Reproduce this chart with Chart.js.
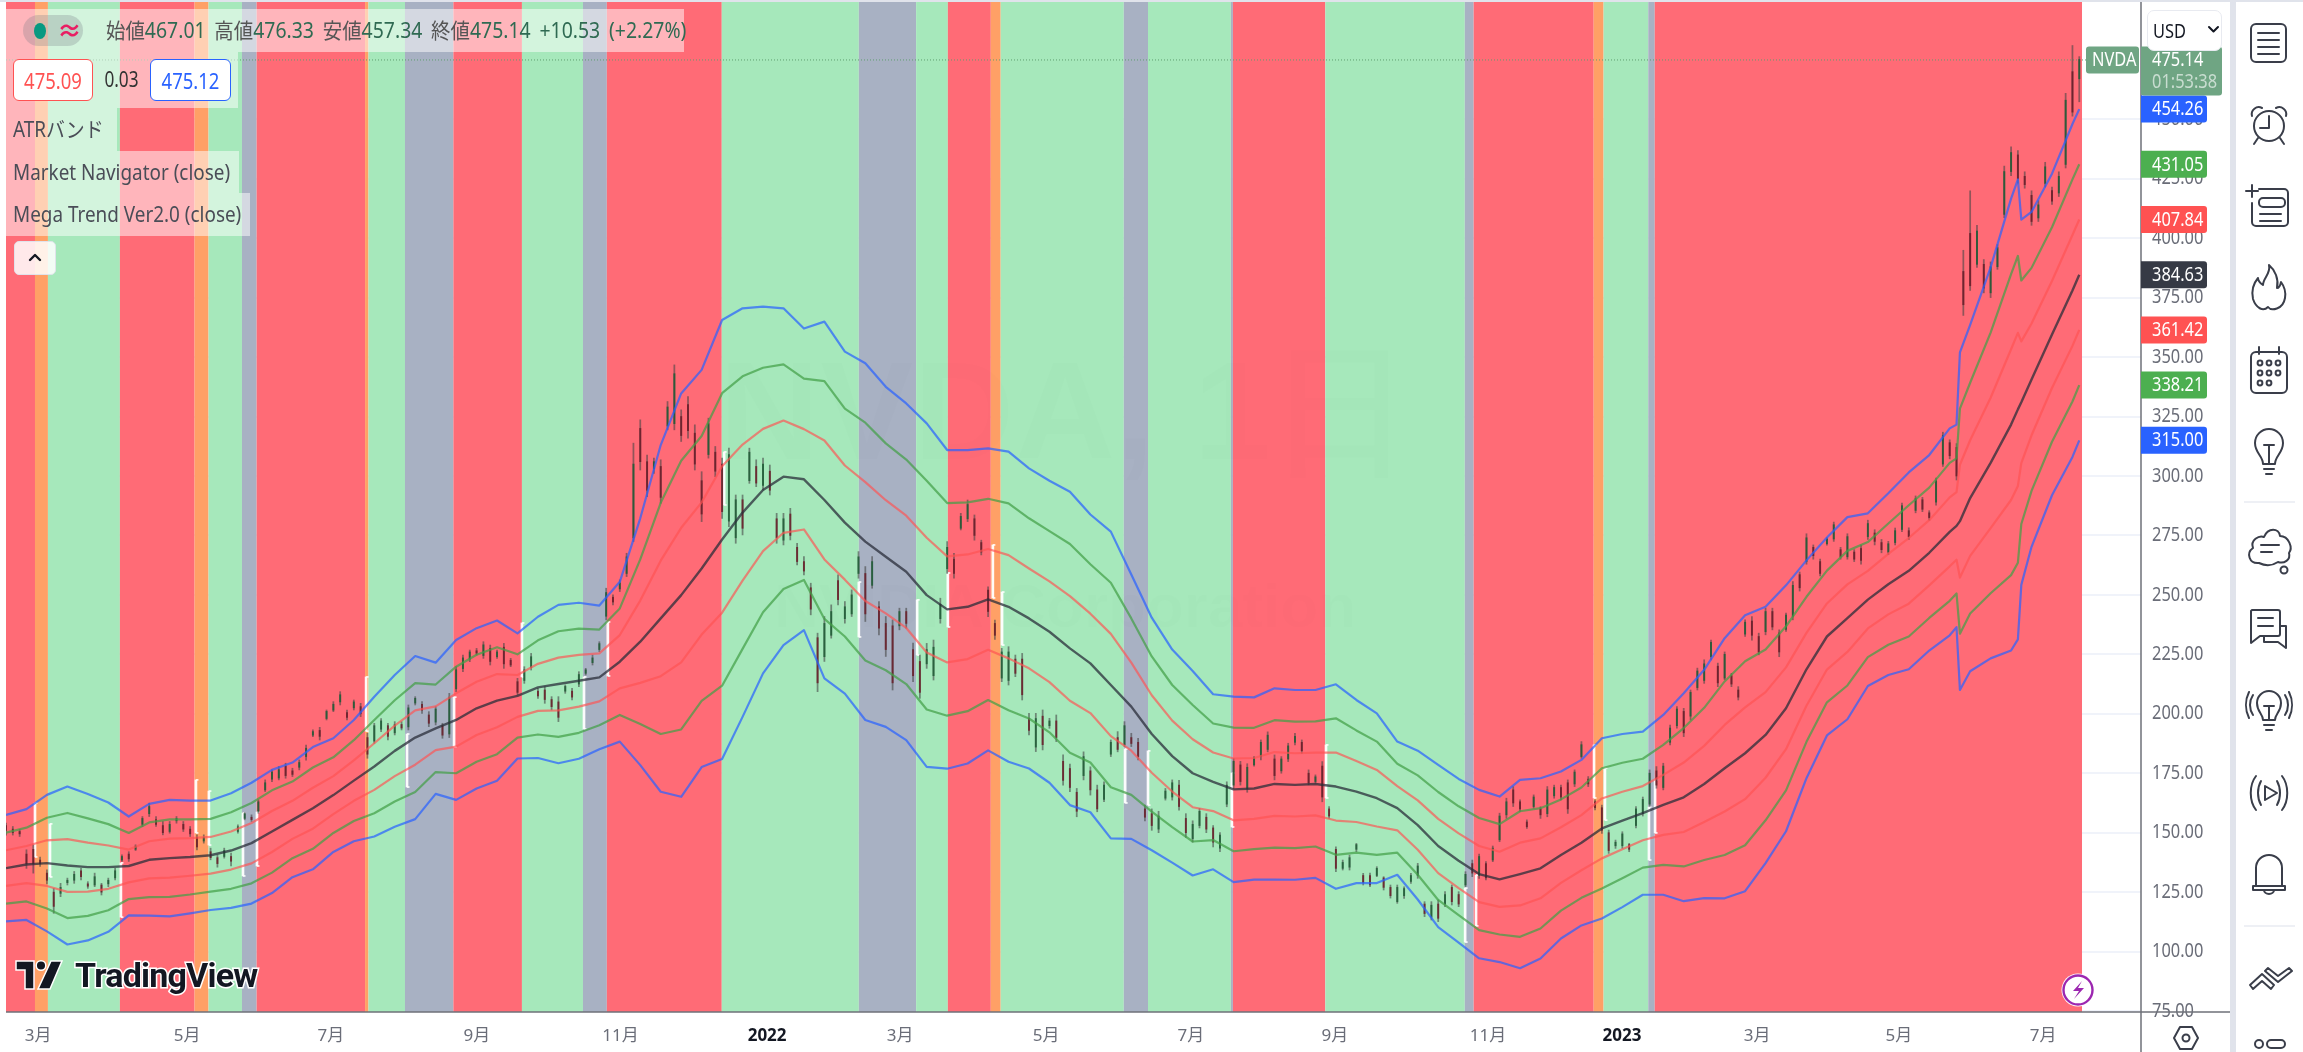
<!DOCTYPE html>
<html lang="ja"><head><meta charset="utf-8"><title>NVDA</title>
<script src="https://cdn.jsdelivr.net/npm/chart.js@4/dist/chart.umd.min.js"></script>
<style>
html,body{margin:0;padding:0;background:#fff;width:2303px;height:1052px;overflow:hidden}
#root{position:relative;width:2303px;height:1052px;overflow:hidden;filter:blur(.45px)}
canvas{position:absolute;left:0;top:0}
.o{position:absolute;font-family:"Noto Sans","Noto Sans CJK JP",sans-serif;white-space:nowrap;box-sizing:border-box}
.strip{background:rgba(255,255,255,.5)}
.t{position:absolute;left:7px;top:0;color:#4a4d57;font-size:21px;line-height:43px;transform-origin:0 50%;white-space:nowrap}
.b{position:absolute;left:0;right:0;top:0;text-align:center;font-size:22px;line-height:40px}
svg{position:absolute;overflow:visible}
svg.i{fill:none;stroke:#3a3e4a;stroke-width:2;stroke-linecap:round;stroke-linejoin:round}
</style></head><body><div id="root">
<canvas id="c" width="2303" height="1052"></canvas>
<div class="o" style="left:0;top:0;width:2303px;height:2px;background:#e0e3eb"></div>
<div class="o" style="left:2230px;top:0;width:6px;height:1052px;background:#e0e3eb"></div>
<div class="o strip" style="left:6px;top:9px;width:678px;height:43px"></div>
<div class="o" style="left:23px;top:15px;width:60px;height:31px;border-radius:16px;background:rgba(120,123,134,.28)"></div>
<div class="o" style="left:34px;top:23px;width:12px;height:16px;border-radius:50%;background:#089981"></div>
<div class="o" style="left:57px;top:13px;font-size:25px;color:#e91e63;line-height:34px;font-weight:700">≈</div>
<div class="o" style="left:106px;top:9px;line-height:43px;font-size:21px;color:#2f6a52;word-spacing:4px;transform:scaleX(.925);transform-origin:0 50%"><span style="color:#555">始値</span>467.01 <span style="color:#555">高値</span>476.33 <span style="color:#555">安値</span>457.34 <span style="color:#555">終値</span>475.14 +10.53 (+2.27%)</div>
<div class="o strip" style="left:6px;top:52px;width:232px;height:56px"></div>
<div class="o" style="left:13px;top:59px;width:80px;height:42px;border:1px solid #ff5252;border-radius:6px;background:#fff;overflow:hidden"><div class="b" style="color:#ff5252;transform:scaleX(.84)">475.09</div></div>
<div class="o" style="left:93px;top:59px;width:57px;height:42px;color:#333"><div class="b" style="font-size:21px;transform:scaleX(.82)">0.03</div></div>
<div class="o" style="left:150px;top:59px;width:81px;height:42px;border:1px solid #2962ff;border-radius:6px;background:#fff;overflow:hidden"><div class="b" style="color:#2962ff;transform:scaleX(.84)">475.12</div></div>
<div class="o strip" style="left:6px;top:108px;width:111px;height:43px"><div class="t" style="transform:scaleX(.9)">ATRバンド</div></div>
<div class="o strip" style="left:6px;top:151px;width:233px;height:42px"><div class="t" style="line-height:42px;transform:scaleX(.9)">Market Navigator (close)</div></div>
<div class="o strip" style="left:6px;top:193px;width:244px;height:43px"><div class="t" style="transform:scaleX(.9)">Mega Trend Ver2.0 (close)</div></div>
<div class="o" style="left:14px;top:241px;width:42px;height:34px;background:rgba(255,255,255,.85);border:1px solid #e0e3eb;border-radius:5px"></div>
<svg class="i" style="left:28px;top:252px" width="14" height="10"><path d="M2 8 L7 3 L12 8" style="stroke:#131722;stroke-width:2.4"/></svg>
<div class="o" style="left:2147px;top:10px;width:75px;height:41px;background:#fff;border:1px solid #e8eaf0;border-radius:7px"><div style="position:absolute;left:5px;top:0;color:#131722;font-size:20px;line-height:40px;transform:scaleX(.82);transform-origin:0 50%">USD</div></div>
<svg class="i" style="left:2208px;top:26px" width="12" height="8"><path d="M1 1 L5.5 5.5 L10 1" style="stroke:#131722"/></svg>
<svg style="left:16px;top:960px" width="46" height="30" viewBox="0 0 46 30"><path d="M0 1 H18 V29 H9 V10 H0 Z" fill="#131722" stroke="#fff" stroke-width="1.5"/><circle cx="25" cy="5.5" r="4.8" fill="#131722" stroke="#fff" stroke-width="1.5"/><path d="M35 1 H46 L34 29 H22 Z" fill="#131722" stroke="#fff" stroke-width="1.5"/></svg>
<div class="o" style="left:75px;top:955px;font-family:Roboto,sans-serif;font-weight:700;font-size:34px;line-height:40px;letter-spacing:-.8px;color:#131722;-webkit-text-stroke:3px #fff;paint-order:stroke fill">TradingView</div>
<svg style="left:2061px;top:973px" width="34" height="34" viewBox="0 0 34 34"><circle cx="17" cy="17" r="16.5" fill="#fff"/><circle cx="17" cy="17" r="14.5" fill="none" stroke="#9c27b0" stroke-width="2.4"/><path d="M21 8 L12 18 H18 L13 26 L23 15 H17 Z" fill="#9c27b0"/></svg>
<svg class="i" style="left:2173px;top:1025px" width="26" height="26" viewBox="0 0 26 26"><path d="M7 2 H19 L25 13 L19 24 H7 L1 13 Z"/><circle cx="13" cy="13" r="3.5"/></svg>
<div class="o" style="left:2244px;top:501px;width:51px;height:2px;background:#eef0f5"></div>
<div class="o" style="left:2244px;top:925px;width:51px;height:2px;background:#eef0f5"></div>
<svg class="i" style="left:2250px;top:23px" width="38" height="40" viewBox="0 0 38 40"><rect x="1" y="1" width="35" height="38" rx="5"/><path d="M8 10H29M8 17H29M8 24H29M8 31H29"/></svg>
<svg class="i" style="left:2250px;top:104px" width="38" height="42" viewBox="0 0 38 42"><circle cx="19" cy="22" r="15"/><path d="M19 12V24H10M2 12A7 7 0 0 1 12 4M36 12A7 7 0 0 0 26 4M8 34L4 40M30 34L34 40"/></svg>
<svg class="i" style="left:2245px;top:183px" width="44" height="46" viewBox="0 0 44 46"><path d="M1 8H13M7 2V14M14 6H39a4 4 0 0 1 4 4V39a4 4 0 0 1-4 4H11a4 4 0 0 1-4-4V20M15 31H36M15 38H36"/><rect x="14" y="15" width="26" height="9" rx="4"/></svg>
<svg class="i" style="left:2251px;top:264px" width="36" height="50" viewBox="0 0 36 50"><path d="M18 1C20 10 12 14 12 21C9 19 7 16 7 14C2 20 0 26 2 35C5 44 12 48 17 43C20 47 32 46 34 34C35 28 33 22 30 18C29 23 27 24 26 24C28 15 24 6 18 1Z"/></svg>
<svg class="i" style="left:2250px;top:346px" width="38" height="48" viewBox="0 0 38 48"><rect x="1" y="6" width="36" height="41" rx="5"/><path d="M9 1V8M29 1V8"/><circle cx="10" cy="17" r="2.4"/><circle cx="19" cy="17" r="2.4"/><circle cx="28" cy="17" r="2.4"/><circle cx="10" cy="27" r="2.4"/><circle cx="19" cy="27" r="2.4"/><circle cx="28" cy="27" r="2.4"/><circle cx="10" cy="37" r="2.4"/><circle cx="19" cy="37" r="2.4"/></svg>
<svg class="i" style="left:2254px;top:428px" width="30" height="48" viewBox="0 0 30 48"><path d="M9 36C9 28 1 25 1 15A14 14 0 0 1 29 15C29 25 21 28 21 36ZM9 36H21M10 41H20M12 46H18M10 17H20M15 17V36"/></svg>
<svg class="i" style="left:2247px;top:526px" width="46" height="50" viewBox="0 0 46 50"><path d="M12 37C2 38-1 27 6 22C3 14 12 9 17 11C21 1 32 2 33 10C42 10 46 22 42 27C44 34 37 38 31 36C25 40 18 40 12 37Z"/><path d="M14 19H32M14 26H25"/><circle cx="37" cy="44" r="3.5"/></svg>
<svg class="i" style="left:2249px;top:608px" width="40" height="42" viewBox="0 0 40 42"><path d="M3 2H29a2 2 0 0 1 2 2V26a2 2 0 0 1-2 2H11L2 35V3ZM9 10H24M9 18H24M31 18H37V40L29 34H15V29"/></svg>
<svg class="i" style="left:2246px;top:688px" width="46" height="46" viewBox="0 0 46 46"><path d="M17 32C17 26 11 24 11 15A12 12 0 0 1 35 15C35 24 29 26 29 32ZM17 32H29M18 37H28M20 42H26M18 18H28M23 18V32"/><path d="M7 7C3 13 3 21 7 27M3 4C-1 12-1 22 3 30M39 7C43 13 43 21 39 27M43 4C47 12 47 22 43 30"/></svg>
<svg class="i" style="left:2246px;top:770px" width="46" height="46" viewBox="0 0 46 46"><path d="M10 6C3 15 3 31 10 40M15 11C11 18 11 28 15 35M36 6C43 15 43 31 36 40M31 11C35 18 35 28 31 35M19 16L31 23L19 30Z"/></svg>
<svg class="i" style="left:2252px;top:852px" width="34" height="44" viewBox="0 0 34 44"><path d="M4 34V16A13 13 0 0 1 30 16V34M1 34H33V38H1ZM12 38A5 4 0 0 0 22 38"/></svg>
<svg class="i" style="left:2248px;top:962px" width="44" height="30" viewBox="0 0 44 30"><path d="M2 23L14 12L26 23L23 27L14 19L5 27ZM20 6L30 14L41 6L44 9L30 20L17 9Z"/></svg>
<svg class="i" style="left:2253px;top:1038px" width="34" height="20" viewBox="0 0 34 20"><circle cx="6" cy="6" r="4"/><rect x="14" y="2" width="18" height="8" rx="4"/><circle cx="6" cy="19" r="4"/><rect x="14" y="15" width="18" height="8" rx="4"/></svg>
</div>
<script>
const lineBars=[0,6,12,18,24,30,36,42,48,54,60,66,72,78,84,90,96,102,108,114,120,126,132,138,144,150,156,162,168,174,180,186,192,198,204,210,216,222,228,234,240,246,252,258,264,270,276,282,288,294,300,306,312,318,324,330,336,342,348,354,360,366,372,378,384,390,396,402,408,414,420,426,432,438,444,450,456,462,468,474,480,486,492,498,504,510,516,522,528,534,540,546,552,558,564,570,572,573,576,582,588,590,591,594,600,606,608];
const upper3=[157.5,159.9,165.9,169.4,166.3,162.7,156.8,162.1,163.8,163.5,163.5,166.6,171,176.4,179.5,186,189.7,197.4,207.2,216.3,224.3,221.5,231,236,239.2,233.8,240.8,245.8,246.7,245.5,255.5,282.2,313,334.7,344.6,365.6,370.5,371.2,370.5,362,364.9,352.3,347.4,337.5,330.5,322.1,310.9,310.9,311.6,310.2,303.2,298,293.4,283.8,276.6,258.6,240.4,227,218,208.2,207.2,206.9,210.7,210,210,212.4,205.8,200.2,188.3,184.5,178.5,172.6,168,165.2,172.2,172.9,175.7,180.6,189.7,191.5,192.5,199.5,208.6,218.5,231.8,241.4,245,254,264.5,274.1,282.7,284.3,292.7,301.5,308.8,320,321.6,352,363.5,387.7,416.6,424.7,407.8,411,427.1,448,454.26];
const upper2=[150,152.1,156.3,158.3,156,153.6,149.9,154.3,155.6,155.6,155.8,158.6,162.5,167.8,171.5,177.4,181.7,188.9,197.4,205.7,212.9,212.3,219.8,224.8,228,225,230.9,234.7,235.8,235.4,244.3,264.9,288.7,306.4,316.8,334.8,341.9,345.5,346.9,340.9,339.9,328.3,322.4,313.7,306.9,298,288.6,288.9,290.4,288.5,282.2,276.8,271.4,262.9,255.1,240.1,224.1,212.1,203.7,195.9,194.2,194.1,197.3,196.7,196.8,198.1,193,188.3,179,174.1,167.1,161.1,156.2,153.6,159,160.3,164,169,177.1,179.4,181.1,186.9,194,202.5,213.6,222.1,227,236.8,249.2,260.2,268.5,272.2,280,287.7,295.1,305.5,307.4,328.3,339.2,360.3,384.9,392.5,382.2,387.5,404.6,424.7,431.05];
const upper1=[142.6,144.4,146.8,147.3,145.8,144.6,142.9,146.4,147.5,147.7,148.2,150.5,154.1,159.1,163.4,168.9,173.8,180.4,187.6,195,201.4,203.1,208.6,213.5,216.7,216.3,221,223.6,224.8,225.4,233.1,247.6,264.4,278.2,288.9,304.1,313.2,319.8,323.3,319.7,314.9,304.4,297.4,289.8,283.3,274,266.2,267,269.3,266.7,261.1,255.7,249.5,242.1,233.6,221.5,207.8,197.1,189.3,183.7,181.2,181.4,183.9,183.4,183.7,183.7,180.1,176.4,169.6,163.6,155.8,149.7,144.4,142,145.8,147.6,152.3,157.4,164.4,167.2,169.6,174.3,179.5,186.5,195.3,202.7,209.1,219.5,234,246.4,254.4,260.1,267.2,273.9,281.4,291,293.2,304.7,315,332.9,353.3,360.2,356.6,364.1,382,401.3,407.84];
const middle=[135.1,136.6,137.2,136.2,135.5,135.5,136,138.6,139.3,139.8,140.5,142.5,145.6,150.5,155.4,160.3,165.8,171.9,177.8,184.4,190,193.9,197.4,202.3,205.5,207.5,211.1,212.5,213.9,215.3,221.9,230.3,240.1,249.9,261.1,273.3,284.6,294.1,299.7,298.6,289.9,280.4,272.4,266,259.7,249.9,243.9,245,248.1,245,240.1,234.5,227.5,221.2,212.1,203,191.5,182.2,175,171.4,168.2,168.6,170.5,170.1,170.5,169.4,167.3,164.5,160.3,153.2,144.4,138.2,132.6,130.4,132.6,135,140.6,145.8,151.8,155.1,158.2,161.7,164.9,170.5,177.1,183.4,191.1,202.3,218.7,232.5,240.2,248,254.5,260.1,267.7,276.5,279,281,290.7,305.5,321.6,328,331,340.6,359.5,378,384.63];
const lower1=[127.6,128.8,127.6,125.1,125.2,126.4,129.1,130.8,131.1,131.9,132.8,134.5,137.1,141.9,147.4,151.7,157.8,163.4,168,173.8,178.6,184.7,186.2,191.1,194.3,198.7,201.2,201.4,203,205.2,210.7,213,215.8,221.6,233.3,242.5,256,268.4,276.1,277.5,264.9,256.4,247.4,242.2,236.1,225.8,221.6,223,226.9,223.3,219.1,213.3,205.5,200.3,190.6,184.5,175.2,167.3,160.7,159.1,155.2,155.8,157.1,156.8,157.3,155.1,154.5,152.6,151,142.8,133,126.7,120.8,118.8,119.4,122.4,128.9,134.2,139.2,143,146.8,149.1,150.3,154.5,158.9,164.1,173.1,185.1,203.4,218.6,226,235.9,241.8,246.3,254,262,264.8,257.3,266.4,278.1,289.9,295.8,305.4,317.1,337,354.7,361.42];
const lower2=[120.2,121.1,118.1,114.1,115,117.4,122.1,122.9,123,124,125.2,126.4,128.7,133.2,139.3,143.2,149.9,154.9,158.2,163.1,167.1,175.5,175,179.8,183,190,191.3,190.3,192,195.2,199.5,195.7,191.5,193.4,205.4,211.8,227.3,242.7,252.5,256.3,239.9,232.5,222.4,218.3,212.5,201.8,199.2,201.1,205.8,201.5,198,192.2,183.6,179.5,169.1,165.9,158.9,152.3,146.3,146.9,142.2,143.1,143.7,143.5,144.2,140.7,141.6,140.7,141.6,132.3,121.7,115.3,109,107.2,106.2,109.7,117.2,122.6,126.5,130.8,135.3,136.5,135.8,138.5,140.6,144.7,155.2,167.8,188.2,204.8,211.9,223.8,229,232.5,240.3,247.5,250.6,233.7,242.2,250.7,258.3,263.5,279.8,293.7,314.4,331.3,338.21];
const lower3=[112.7,113.3,108.5,103,104.7,108.3,115.2,115.1,114.8,116.1,117.5,118.4,120.2,124.6,131.3,134.6,141.9,146.4,148.4,152.5,155.7,166.3,163.8,168.6,171.8,181.2,181.4,179.2,181.1,185.1,188.3,178.4,167.2,165.1,177.6,181,198.7,217,228.9,235.2,214.9,208.5,197.4,194.5,188.9,177.7,176.9,179.1,184.6,179.8,177,171,161.6,158.6,147.6,147.4,142.6,137.4,132,134.6,129.2,130.3,130.3,130.2,131,126.4,128.8,128.8,132.3,121.9,110.3,103.8,97.2,95.6,93,97.1,105.5,111,113.9,118.7,123.9,123.9,121.2,122.5,122.4,125.4,137.2,150.6,172.9,190.9,197.7,211.7,216.3,218.7,226.6,233,236.4,210,217.9,223.3,226.6,231.3,254.2,270.2,291.9,308,315];

const highs=[154,152.6,151.4,142.8,144.9,139.7,134.4,126.6,128.7,130.9,
133.7,135,129.4,133,128.7,130.9,135,140.7,142,144.9,
156.8,162.4,156.8,154.7,154.7,156.8,154.7,152.6,149.1,149.1,
143.5,140.6,143.5,141.4,153.3,158.5,157.5,163.8,172.2,176.4,
177.8,179.2,177.1,180.6,186.8,193.2,194.3,201.6,205.1,209.3,
201.6,205.8,204.4,191.8,196,198,196,196.7,196.7,203.7,
207.2,205.1,200.9,203,196,208.6,219.8,224.7,226.8,227.5,
230.3,228.9,226.8,229.6,223.3,214.9,219.8,225.4,210.7,211.4,
207.2,207.2,212.1,210.7,217.7,219.1,224.7,230.3,252.8,250,
256.3,267.5,313.8,323.6,308.8,307.5,306.8,331.3,346.7,327.8,
333.4,321.5,301.8,324.3,312.4,307.5,311.7,292,292,311.7,
306.8,307.5,304.6,284.3,284.3,286.4,271.7,266.1,254.9,233.9,
240.9,245.8,258.4,247.2,252.1,268.2,261.9,266.1,247.2,240.9,
239.5,244.4,244.4,229.7,224.7,229.6,231,248.6,272.4,267.5,
284.3,289.9,283.6,273,253.4,239.4,227.5,228.2,224.7,225.4,
200.2,200.2,201.6,198.1,199.5,182.7,178.8,168.6,184,177.7,
170,171.4,189,192.5,196.7,191.8,189.7,161.6,160,159,
168.6,172.2,172,158,155,160.2,158,153,150,171.4,
181.2,180,179,182,189,192.4,182.7,182,187.6,191.8,
189,176.4,174.3,179.9,161,144.1,138.5,140.6,145.5,132.9,
133,135.7,131.5,128,128,127.2,132.9,137.1,121,121,
121.7,125.2,128,125.2,133.6,138.5,141,137.8,144.4,158.2,
164.5,169.4,163.8,155.4,165.9,160.9,169.4,170,170,172.2,
176.4,188.3,173.6,163.8,161.6,151.1,146.9,150.4,145.5,161,
165,176.4,177.8,179.2,195.3,203,202.3,210,219.2,222.7,
231,221.3,226,217,211.4,239.5,240.9,233.9,244.4,244.4,
235.3,242.3,255.6,259.6,275.7,271,265,274.1,280.6,270,
275.7,269,270.9,281.4,277.4,273.3,272.5,278.1,288.6,278.2,
291.6,291,285.4,299.1,318.4,315.2,313.6,394.9,419.9,405.4,
391,390,397.3,430.3,438.4,436.8,427.9,419.9,415.8,431.9,
421.5,427.9,460.9,481,476.33];
const lows=[149,149,148.4,135,133,135.8,128.5,116.1,123.1,128,
128.7,130.1,126.6,127.3,123.8,127.3,130.1,137.9,137.9,142.5,
152.6,156.8,152.6,149.1,149.8,154,150.5,148.4,142.8,145.6,
138.6,135.5,139.3,136,149.8,155.4,154.7,158.2,167.3,171.5,
172.2,172.9,173.6,176.4,180.5,190.4,189,197.4,200.9,203.7,
197.4,201.6,198.8,181.3,187.6,192.5,189,191.1,193.2,193.2,
203.7,200.2,194.6,195.3,189.7,190,209.3,217.7,221.9,224.7,
223.3,220.5,223.3,219.1,219.8,207.9,212.8,218.4,206.5,204.4,
201.6,196.7,208.6,205.8,211.4,216.3,220.5,226.1,239.5,245.8,
251.4,257.7,272.4,302.5,291.3,301.1,288.5,319.4,319.4,314.5,
315.9,302.5,280.8,307.5,299.7,282.2,278.7,271.7,275.2,296.9,
295.5,294.1,292,271.7,271,273.1,262.6,258.4,241.6,209.3,
222,231.8,245.8,238.1,240.9,257,238.8,252.8,233.2,224.1,
210,235.3,236,213.5,206.5,219.1,214.2,238.1,259,257,
277.3,280.8,273,266.8,240.8,231.3,213.5,212.1,215.6,205.8,
191.1,184.1,184.8,193.9,188.3,170,167.2,156.7,172.2,165.8,
158.8,163,182,184,186.2,186.2,180.6,155,151,150,
163.7,163.7,159.5,148,146,152,150,144,142,160.9,
168.6,170,167,178,180.6,184,172.2,175,179.9,186.9,
183.4,170.1,170.8,163,156,133.6,134.3,134.3,142,128,
127.3,131.5,125.9,122.5,120.3,122.4,128.7,130.8,114.7,113.3,
112.6,118.9,119.6,118.9,127.3,131.5,130.8,130.1,137.8,146.2,
156,161,158.9,151.8,160.3,156,156.7,164.5,163.8,158.1,
169.4,181.3,169.4,159.6,149.7,141.3,143.4,143.4,142,152,
157,161,168.7,168,186.9,193.9,190.4,197.4,210,212.8,
222.7,211.4,214.3,211.4,205.8,232.5,231,224.8,233.2,235.3,
224,234.6,239.5,251.6,262.9,265,258,270.9,272.5,265,
265,264,262.9,273.3,271,267.7,266.9,271,276.6,273.3,
284.5,285,281.4,287.7,304,307.2,298.3,367.5,378,387.7,
377,375,386.9,408.6,426.3,423.1,421,405.4,407,421.5,
414.2,417.5,429.5,451.3,457.34];
const opens=[153,151.5,150.5,141,143,138.5,133,125,124.5,129,
130,134,128.5,128,128,128.5,131,138.5,141,143,
153.5,158,155.5,153,150.5,155,153.5,151.5,148,146.5,
142,139.5,140,140,150.5,156,156.5,159,168,172.5,
173,178,176,177.5,182,191,193,198,201.5,205,
200.5,202.5,203,190,188.5,193.5,195,192,195.5,194.5,
204.5,204,199.5,196.5,195,191.5,210.5,219,223,226.5,
224.5,227.5,224,228,222.5,213.5,214,219.5,209.5,210,
206,205,209.5,209.5,212.5,217,221.5,227,241,249,
252.5,259,274,320,306,303,304,321,322,325,
330,318,298,309,310,305,281,274,290,298,
304,296,302,282,273,284,270,264,253,232,
224,233,256,240,242,259,259,254,245,238,
237,237,243,227,222,221,216,240,261,265,
278,282,282,272,252,238,215,214,223,223,
198,186,199,195,197,180,177,167,174,176,
168,164,183,190,187,190,188,160,158,151.5,
164.5,165,170,156,147.5,153,156.5,152,143.5,162,
170,178.5,168.5,178.5,182,185,181,176,181,188,
188,175,171.5,178,160,143,135,135.5,143,132,
132,132,131,127,121,123.5,129.5,132,120,114.5,
120,120,127,124,128,137,132,137,138.5,147,
157.5,168,163,154.5,161,160,158,165.5,169,171,
170.5,182,172.5,163,160.5,150,144.5,144.5,145,153,
158,162,176,169,188,195,201,199,211,214,
224,220,215,216,210,233.5,239,232.5,234.5,243,
234,235.5,241,258.5,264,270,264,271.5,273.5,269,
266,268,269.5,274.5,276,272,268,272,277.5,277,
285.5,290,284.5,289,305,314,312,386,402,389,
389,377,388,410,428,435,426,418,408.5,423,
420,419,431,470,467.01];
const closes=[151,150,149.5,137,137,137,130,119,127,130,
132.5,131.5,127.5,131.5,125,130,134,140,139,144.3,
156,161,153.5,150,153.5,156,151.5,149.5,144,148,
139.5,137,142.5,138,152.5,158,155.5,163,171,175.5,
176.5,174,174.5,179.5,185.5,192.5,190.5,201,204,208,
198.5,205,200,183,195,197,190.5,195.5,194,202.5,
206.5,201.5,196,202,191,207,218.5,223.5,226,225.5,
229,222,226,221,220.5,209,218.5,224,207.5,206,
203,198.5,211.5,207,216.5,218.5,223.5,229.5,251,247,
255,266,305,306,294,306,291,329,343,317,
319,305,284,322,302,285,309,290,278,310,
297,305,294,274,282,275,264,260,244,213,
238,243,248,245,250,266,242,264,236,227,
213,243,238,216,209,227,228,246,270,259,
283,288,275,268,243,233,226,226,217,208,
193,198,187,197,190,172,169,159,182,168,
160,170,188,185,195,187.5,182,156.5,153,157,
167.5,171,161,150,153.5,159,151.5,146,149,170,
180,171.5,177.5,181.5,188,191,174,181,186.5,190.5,
184.5,171,173.5,165,157,135,137.5,139.5,145,129,
128,135,127,123.5,127,126.5,132,136,116,119.5,
114,124,121,120,132.5,133,140,131,143.5,157,
163,162.5,160,152.5,165,157.5,168,169,165,160,
175.5,187,170.5,160.5,151,142.5,146,149.5,143,160,
164,175,170,178,194,202,192,209,218,221,
230,213,225,212.5,207,238.5,233,226,243,236.5,
226,241.5,254,253,274,266.5,259,273.5,279.5,266,
274.5,265,264.5,280,272.5,269,271.5,277,287.5,274.5,
290.5,286,282.5,298,317,308.5,300,372,380,403,
379,388,396,428,436,425,422.5,407,414,430,
415.5,426,458,453,475.14];

const signalBars=[8.5,12.9,33.7,55.7,59.5,69.5,73.6,105.6,117.6,131.4,151.3,169.5,176.5,210.6,250.1,267.2,276.2,289.4,292.1,328.2,334.9,359.5,387.1,427.9,431.1,465.7,468.9,481.8,483.6];
const signalHigh=[162.5,153.7,137.3,172.2,167.5,158.3,158.7,215.5,191.5,207,238.2,215.5,238.6,310.1,255.4,247.9,259.2,271,251.2,185.2,184.4,175.1,186.9,126.7,132.2,186.9,177.2,160.8,172.2];
const signalLow=[139.8,131.4,114.5,149.9,144.8,131.8,136,192.7,169.2,186,215.5,193.6,215.9,287.8,232.3,224.7,236.5,248.7,228.9,162.5,161.6,152.4,164.6,104,110.8,164.6,155.3,138.5,149.9];

const zoneEdges=[0,8.5,12.3,33.4,55.3,59.4,69.2,73.5,105.3,106.3,117,131.2,151.3,169.2,176.2,209.9,250.1,266.9,276.2,288.8,291.7,327.8,334.9,359.2,359.8,386.9,427.8,430.4,465.6,468.5,481.6,483.5,608.8];
const zoneStates=["R","O","G","R","O","G","S","R","O","G","S","R","G","S","R","G","S","G","R","O","G","S","G","S","R","G","S","R","O","G","S","R"];
const zoneColors={R:"#ff6b76",O:"#ffa066",G:"#a6e8bb",S:"#a8b1c3"};

const priceTicks=[75,100,125,150,175,200,225,250,275,300,325,350,375,400,425,450];
const timeTickBars=[9.4,53.1,95.3,138.1,180.2,223.2,262.2,305,347.5,389.7,434.6,473.9,513.5,555.1,597.4];
const timeTickLabels=["3月","5月","7月","9月","11月","2022","3月","5月","7月","9月","11月","2023","3月","5月","7月"];
const tagValues=[454.26,431.05,407.84,384.63,361.42,338.21,315.00];
const tagColors=["#2962ff","#4caf50","#ff5252","#363a45","#ff5252","#4caf50","#2962ff"];
const lastPrice=475.14;
const countdown="01:53:38";
const ticker="NVDA";
const watermark=["NVDA, 1日","NVIDIA Corporation"];

const candleBars=highs.map((_,i)=>i*2);
const lineData=a=>a.map((v,i)=>({x:lineBars[i],y:v}));
const line=(a,c,o,w)=>({type:"line",data:lineData(a),borderColor:c,borderWidth:w||2.4,pointRadius:0,tension:0,order:o,borderJoinStyle:"round"});
const FONT='"Noto Sans","Noto Sans CJK JP",sans-serif';
const NARROW_X=.82;
const noPad=s=>{s.paddingTop=s.paddingBottom=s.paddingLeft=s.paddingRight=0;};

function narrowText(ctx,text,x,y){ctx.save();ctx.translate(x,y);ctx.scale(NARROW_X,1);ctx.fillText(text,0,0);ctx.restore();}

const backdrop={id:"backdrop",
 beforeDraw(ch){const s=ch.scales.y;if(s._narrowed)return;s._narrowed=true;const o=s.drawLabels.bind(s);
   s.drawLabels=function(area){const c=ch.ctx,x0=2152;c.save();c.translate(x0,0);c.scale(NARROW_X,1);c.translate(-x0,0);o(area);c.restore();};},
 beforeDatasetsDraw(ch){
  const {ctx,chartArea:a,scales:{x,y}}=ch;ctx.save();
  zoneStates.forEach((s,i)=>{const l=x.getPixelForValue(zoneEdges[i]),r=x.getPixelForValue(zoneEdges[i+1]);
    ctx.fillStyle=zoneColors[s];ctx.fillRect(l,a.top,r-l,a.bottom-a.top);});
  ctx.fillStyle="rgba(0,0,0,.008)";ctx.textAlign="center";ctx.textBaseline="middle";
  ctx.font='600 140px "Liberation Sans",sans-serif';ctx.fillText(watermark[0],1065,420);
  ctx.font='600 62px "Liberation Sans",sans-serif';ctx.fillText(watermark[1],1065,610);
  const py=y.getPixelForValue(lastPrice);ctx.strokeStyle="#5f9e6e";ctx.lineWidth=1;ctx.setLineDash([1,2]);
  ctx.beginPath();ctx.moveTo(a.left,py+.5);ctx.lineTo(2086,py+.5);ctx.stroke();
  ctx.restore();}};
const overlays={id:"overlays",afterDraw(ch){
  const {ctx,chartArea:a,scales:{y}}=ch;ctx.save();
  ctx.strokeStyle="#6f7179";ctx.lineWidth=1.5;ctx.beginPath();
  ctx.moveTo(a.right,0);ctx.lineTo(a.right,1052);ctx.moveTo(a.left,a.bottom);ctx.lineTo(2230,a.bottom);ctx.stroke();
  const tx=2152;ctx.textBaseline="middle";ctx.textAlign="left";
  ctx.font='20px '+FONT;
  tagValues.forEach((v,i)=>{const py=y.getPixelForValue(v);ctx.fillStyle=tagColors[i];
    ctx.beginPath();ctx.roundRect(a.right,py-13.5,66,27,[0,3,3,0]);ctx.fill();
    ctx.fillStyle="#fff";narrowText(ctx,v.toFixed(2),tx,py+.5);});
  const p=y.getPixelForValue(lastPrice);
  ctx.fillStyle="#6fa583";ctx.beginPath();ctx.roundRect(a.right,p-13,81,49,[0,3,3,3]);ctx.fill();
  ctx.beginPath();ctx.roundRect(2086,p-13,53,27,3);ctx.fill();
  ctx.fillStyle="#fff";narrowText(ctx,lastPrice.toFixed(2),tx,p+1);
  narrowText(ctx,ticker,2092,p+1);
  ctx.fillStyle="rgba(255,255,255,.62)";narrowText(ctx,countdown,tx,p+23);
  ctx.restore();}};

new Chart(document.getElementById("c"),{
 type:"bar",
 data:{datasets:[
  line(upper3,"rgba(41,98,255,.72)",1,2.2),
  line(upper2,"rgba(67,160,71,.72)",1,2.2),
  line(upper1,"rgba(255,82,82,.68)",1,2.2),
  line(middle,"rgba(42,46,57,.75)",1,2.4),
  line(lower1,"rgba(255,82,82,.68)",1,2.2),
  line(lower2,"rgba(67,160,71,.72)",1,2.2),
  line(lower3,"rgba(41,98,255,.72)",1,2.2),
  {type:"bar",grouped:false,order:5,barThickness:1.3,borderWidth:0,
   data:candleBars.map((b,i)=>({x:b,y:[opens[i],closes[i]]})),
   backgroundColor:candleBars.map((b,i)=>closes[i]>=opens[i]?"rgba(29,92,53,.85)":"rgba(106,28,40,.85)")},
  {type:"bar",grouped:false,order:6,barThickness:1.1,borderWidth:0,backgroundColor:"rgba(70,70,70,.6)",
   data:candleBars.map((b,i)=>({x:b,y:[lows[i],highs[i]]}))},
  {type:"bar",grouped:false,order:7,barThickness:2,borderWidth:0,backgroundColor:"rgba(255,255,255,.95)",
   data:signalBars.map((b,i)=>({x:b,y:[signalLow[i],signalHigh[i]]}))},
  {type:"line",showLine:false,order:7,pointStyle:"dash",pointRadius:2.5,pointBorderColor:"#fff",pointBorderWidth:1.5,
   data:signalBars.flatMap((b,i)=>[{x:b,y:signalHigh[i]},{x:b,y:signalLow[i]}])}
 ]},
 options:{responsive:false,animation:false,events:[],
  layout:{padding:{left:6,top:2,right:73,bottom:0},autoPadding:false},
  plugins:{legend:{display:false},tooltip:{enabled:false}},
  scales:{
   x:{type:"linear",min:0,max:626.1,offset:false,
    afterFit(s){s.height=40;noPad(s);},
    afterBuildTicks(s){s.ticks=timeTickBars.map(v=>({value:v}));},
    grid:{display:false,drawTicks:false,offset:false},border:{display:false},
    ticks:{autoSkip:false,maxRotation:0,padding:14,
      callback:(v,i)=>timeTickLabels[i],
      color:c=>/^20/.test(timeTickLabels[c.index])?"#131722":"#6a6d78",
      font:c=>({family:FONT,size:17,weight:/^20/.test(timeTickLabels[c.index])?"700":"400"})}},
   y:{type:"linear",position:"right",min:74.6,max:499.3,
    afterFit(s){s.width=89;noPad(s);},
    afterBuildTicks(s){s.ticks=priceTicks.map(v=>({value:v}));},
    grid:{color:"#f0f3fa",lineWidth:2,drawTicks:false},border:{display:false},
    ticks:{padding:11,color:"#6a6d78",font:{family:FONT,size:20},callback:v=>v.toFixed(2)}}
  }},
 plugins:[backdrop,overlays]
});
</script></body></html>
